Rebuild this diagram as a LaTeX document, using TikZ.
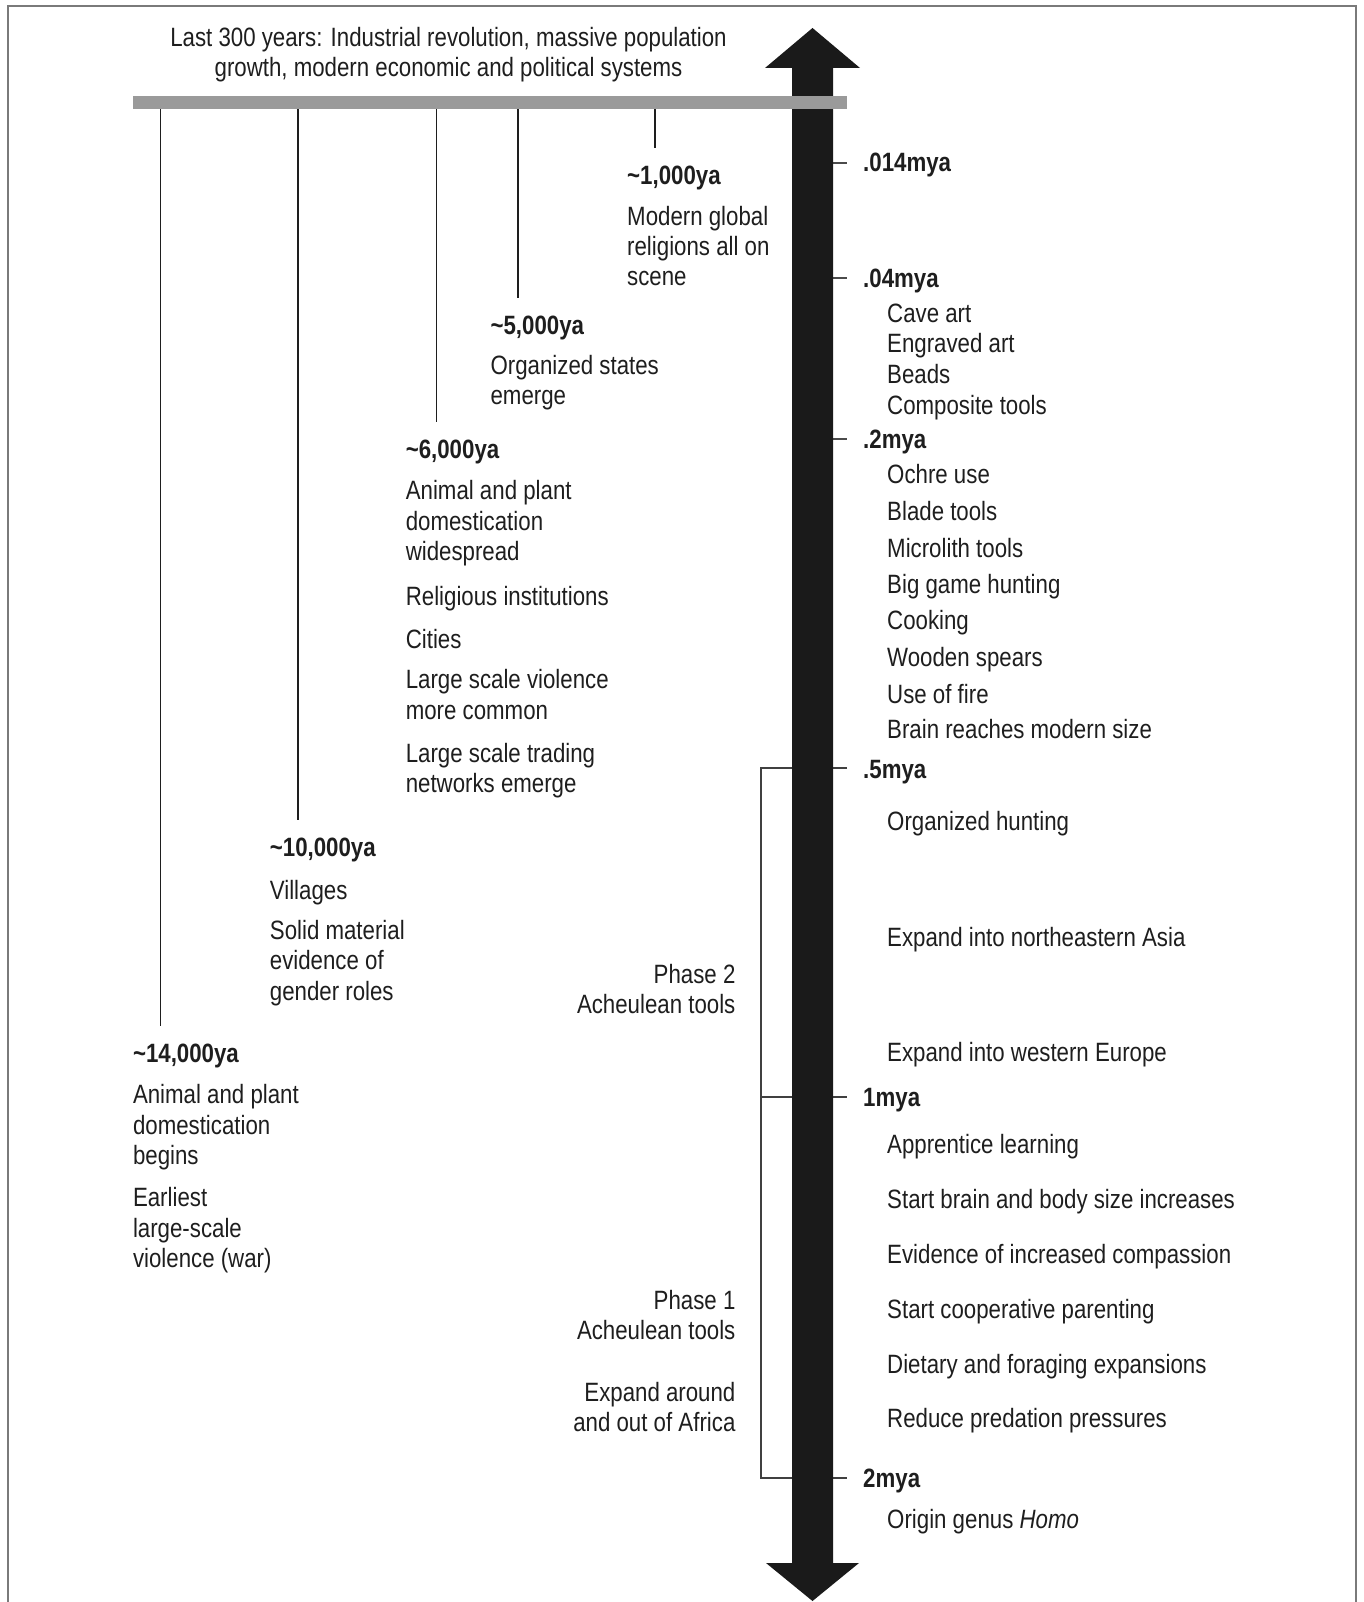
\documentclass[tikz,border=0pt]{standalone}
\usepackage{fontspec}
\setmainfont{Liberation Sans}[FakeStretch=0.84]
\definecolor{ink}{HTML}{1E1E1E}
\definecolor{framegray}{HTML}{7A7A7A}
\definecolor{bargray}{HTML}{9A9A9A}
\definecolor{arrowblack}{HTML}{1A1A1A}
\begin{document}
\begin{tikzpicture}[x=1pt,y=-1pt,
  txt/.style={inner sep=0pt, anchor=north west, align=left, text=ink,
    font=\fontsize{26.5}{30.4}\selectfont, execute at begin node=\strut},
  txtr/.style={txt, anchor=north east, align=right},
  txtc/.style={txt, anchor=north, align=center},
  lbl/.style={inner sep=0pt, anchor=north west, text=ink,
    font=\bfseries\fontsize{26.5}{30.4}\selectfont, execute at begin node=\strut},
  drop/.style={draw=ink, line width=1.4pt, shorten >=15pt},
  tickline/.style={draw=ink!80, line width=1.4pt},
  bracketline/.style={draw=ink!85, line width=1.2pt}]
\useasboundingbox (0,0) rectangle (1363,1602);
% frame
\draw[framegray, line width=2pt] (7.5,1602) -- (7.5,6.5) -- (1356,6.5) -- (1356,1602);

% coordinates for ticks and bracket
\coordinate (b5) at (761,768);
\coordinate (b1) at (761,1097);
\coordinate (b2) at (761,1478);
\coordinate (s5) at (847,768);
\coordinate (s1) at (847,1097);
\coordinate (s2) at (847,1478);
\draw[bracketline] (s5) -- (b5) -- (b2) -- (s2);
\draw[bracketline] (b1) -- (s1);
\coordinate (k014a) at (833,163); \coordinate (k014b) at (847,163);
\coordinate (k04a) at (833,278); \coordinate (k04b) at (847,278);
\coordinate (k2a) at (833,439); \coordinate (k2b) at (847,439);
\draw[tickline] (k014a) -- (k014b);
\draw[tickline] (k04a) -- (k04b);
\draw[tickline] (k2a) -- (k2b);

% big double arrow
\fill[arrowblack] (812.5,28) -- (860,68) -- (833,68) -- (833,1563) -- (859,1563)
  -- (812.5,1601) -- (766,1563) -- (792,1563) -- (792,68) -- (765,68) -- cycle;

% text nodes
\node[txtc] (t0) at (448.5,26.8) {Last 300 years: Industrial revolution, massive population\\growth, modern economic and political systems};

\node[lbl] (l1k) at (627,163.5) {\textasciitilde 1,000ya};
\node[txt] (t1k) at (627,205.6) {Modern global\\religions all on\\scene};

\node[lbl] (l5k) at (490.4,312.7) {\textasciitilde 5,000ya};
\node[txt] (t5k) at (490.4,354.8) {Organized states\\emerge};

\node[lbl] (l6k) at (405.6,437.3) {\textasciitilde 6,000ya};
\node[txt] (t6a) at (405.6,480.5) {Animal and plant\\domestication\\widespread};
\node[txt] (t6b) at (405.6,583.7) {Religious institutions};
\node[txt] (t6c) at (405.6,626.6) {Cities};
\node[txt] (t6d) at (405.6,669.5) {Large scale violence\\more common};
\node[txt] (t6e) at (405.6,743) {Large scale trading\\networks emerge};

\node[lbl] (l10k) at (269.7,834.8) {\textasciitilde 10,000ya};
\node[txt] (t10a) at (269.7,877.9) {Villages};
\node[txt] (t10b) at (269.7,919.8) {Solid material\\evidence of\\gender roles};

\node[lbl] (l14k) at (132.8,1041.2) {\textasciitilde 14,000ya};
\node[txt] (t14a) at (132.8,1084.3) {Animal and plant\\domestication\\begins};
\node[txt] (t14b) at (132.8,1187.5) {Earliest\\large-scale\\violence (war)};

% gray bar and drop lines
\coordinate (c14) at (160.5,102);
\coordinate (c10) at (298,102);
\coordinate (c6) at (436.5,102);
\coordinate (c5) at (518,102);
\coordinate (c1) at (655,102);
\draw[drop] (c14) -- (c14 |- l14k.north);
\draw[drop] (c10) -- (c10 |- l10k.north);
\draw[drop] (c6) -- (c6 |- l6k.north);
\draw[drop] (c5) -- (c5 |- l5k.north);
\draw[drop] (c1) -- (c1 |- l1k.north);
\fill[bargray] (133,96) rectangle (847,109);

% right side
\node[lbl] (m014) at (863,150.3) {.014mya};
\node[lbl] (m04) at (863,265.7) {.04mya};
\node[txt] (a1) at (887,300.6) {Cave art};
\node[txt] (a2) at (887,331.3) {Engraved art};
\node[txt] (a3) at (887,362) {Beads};
\node[txt] (a4) at (887,392.6) {Composite tools};
\node[lbl] (m2) at (863,427.1) {.2mya};
\node[txt] (b1n) at (887,462) {Ochre use};
\node[txt] (b2n) at (887,498.9) {Blade tools};
\node[txt] (b3n) at (887,535.6) {Microlith tools};
\node[txt] (b4n) at (887,572.4) {Big game hunting};
\node[txt] (b5n) at (887,608.2) {Cooking};
\node[txt] (b6n) at (887,645) {Wooden spears};
\node[txt] (b7n) at (887,681.7) {Use of fire};
\node[txt] (b8n) at (887,717.5) {Brain reaches modern size};
\node[lbl] (m5) at (863,757.1) {.5mya};
\node[txt] (c1n) at (887,809.4) {Organized hunting};
\node[txt] (c2n) at (887,924.9) {Expand into northeastern Asia};
\node[txt] (c3n) at (887,1040.4) {Expand into western Europe};
\node[lbl] (m1) at (863,1085.1) {1mya};
\node[txt] (d1n) at (887,1132.3) {Apprentice learning};
\node[txt] (d2n) at (887,1187.5) {Start brain and body size increases};
\node[txt] (d3n) at (887,1241.6) {Evidence of increased compassion};
\node[txt] (d4n) at (887,1296.8) {Start cooperative parenting};
\node[txt] (d5n) at (887,1352) {Dietary and foraging expansions};
\node[txt] (d6n) at (887,1406.1) {Reduce predation pressures};
\node[lbl] (m2my) at (863,1466.2) {2mya};
\node[txt] (e1n) at (887,1507.3) {Origin genus \textit{Homo}};

% bracket labels
\node[txtr] (ph2) at (735.6,963.7) {Phase 2\\Acheulean tools};
\node[txtr] (ph1) at (735.6,1289.6) {Phase 1\\Acheulean tools};
\node[txtr] (afr) at (735.6,1381.6) {Expand around\\and out of Africa};
\end{tikzpicture}
\end{document}
